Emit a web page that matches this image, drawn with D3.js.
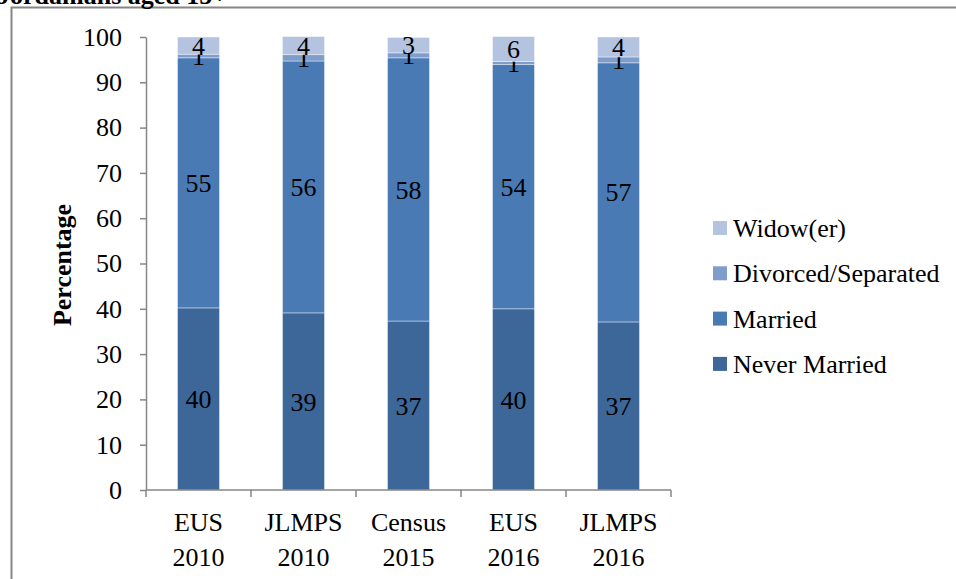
<!DOCTYPE html>
<meta charset="utf-8">
<script src="https://d3js.org/d3.v7.min.js"></script>
<style>
    body { margin: 0; background: #fff; }
    text { font-family: "Liberation Serif", "Times New Roman", serif; fill: #000; }
</style>
<svg id="chart" width="956" height="579"></svg>
<script>
    // surveys on the x axis (two-line labels)
    var surveys = ["EUS 2010", "JLMPS 2010", "Census 2015", "EUS 2016", "JLMPS 2016"];
    var statuses = ["Never Married", "Married", "Divorced/Separated", "Widow(er)"];
    // percentages
    var neverMarried = [40.2, 39.1, 37.3, 40.0, 37.1];
    var married = [55.2, 55.6, 58.1, 53.9, 57.2];
    var divorced = [0.8, 1.4, 1.1, 0.7, 1.3];
    var widow = [3.8, 4.0, 3.4, 5.5, 4.4];
    var yTicks = [0, 10, 20, 30, 40, 50, 60, 70, 80, 90, 100];
    var colors = ["#3d6699", "#4a7ab4", "#7f9dcb", "#b4c4e0"];

    var rows = surveys.map(function(s, i) {
        return {survey: s, "Never Married": neverMarried[i], "Married": married[i],
                "Divorced/Separated": divorced[i], "Widow(er)": widow[i]};
    });

    var svg = d3.select("#chart");
    var axisColor = "#868686";
    var fs = "26px";

    // frame of the chart (cut off at the right / bottom in the original)
    svg.append("path")
        .attr("d", "M11.5,579 V7.5 H956")
        .attr("fill", "none")
        .attr("stroke", axisColor)
        .attr("stroke-width", 2);

    // title, mostly clipped at the top
    svg.append("text")
        .attr("x", -3).attr("y", 4)
        .style("font-size", fs)
        .style("font-weight", "bold")
        .text("Jordanians aged 15+");

    var x = d3.scaleBand().domain(surveys).range([146, 671]).paddingInner(0.6).paddingOuter(0.3);
    var y = d3.scaleLinear().domain([0, 100]).range([490, 37]);
    var color = d3.scaleOrdinal().domain(statuses).range(colors);

    var stacked = d3.stack().keys(statuses)(rows);

    var layer = svg.append("g").selectAll("g")
        .data(stacked)
        .join("g")
        .attr("fill", d => color(d.key));

    layer.selectAll("rect")
        .data(d => d)
        .join("rect")
        .attr("x", d => x(d.data.survey))
        .attr("y", d => y(d[1]))
        .attr("width", x.bandwidth())
        .attr("height", d => y(d[0]) - y(d[1]))
        .attr("stroke", "#fff")
        .attr("stroke-opacity", 0.5)
        .attr("stroke-width", 0.8);

    layer.selectAll("text")
        .data(d => d)
        .join("text")
        .attr("x", d => x(d.data.survey) + x.bandwidth() / 2)
        .attr("y", d => (y(d[0]) + y(d[1])) / 2)
        .attr("dy", "0.35em")
        .attr("text-anchor", "middle")
        .style("font-size", fs)
        .text(d => d3.format(".0f")(d[1] - d[0]));

    // y axis
    var yAxis = svg.append("g")
        .attr("transform", "translate(146,0)")
        .call(d3.axisLeft(y).tickValues(yTicks).tickSize(6).tickPadding(18).tickSizeOuter(0));
    yAxis.selectAll("line, path").attr("stroke", axisColor).attr("stroke-width", 1.5);
    yAxis.selectAll("text").style("font-size", fs).attr("font-family", null);

    // x axis: ticks between categories
    var xAxis = svg.append("g").attr("transform", "translate(0,490)");
    xAxis.append("line")
        .attr("x1", 146).attr("x2", 671)
        .attr("stroke", axisColor).attr("stroke-width", 1.5);
    var step = x.step();
    xAxis.selectAll("line.tick")
        .data(d3.range(surveys.length + 1))
        .join("line")
        .attr("class", "tick")
        .attr("x1", i => 146 + i * step).attr("x2", i => 146 + i * step)
        .attr("y1", 0).attr("y2", 7)
        .attr("stroke", axisColor).attr("stroke-width", 1.5);
    var xl = xAxis.selectAll("text")
        .data(surveys)
        .join("text")
        .attr("text-anchor", "middle")
        .attr("x", d => x(d) + x.bandwidth() / 2)
        .style("font-size", fs);
    xl.append("tspan").attr("x", d => x(d) + x.bandwidth() / 2).attr("y", 41).text(d => d.split(" ")[0]);
    xl.append("tspan").attr("x", d => x(d) + x.bandwidth() / 2).attr("y", 76).text(d => d.split(" ")[1]);

    // y axis title
    svg.append("text")
        .attr("transform", "translate(71,265) rotate(-90)")
        .attr("text-anchor", "middle")
        .style("font-size", fs)
        .style("font-weight", "bold")
        .text("Percentage");

    // legend, widow on top
    var legend = svg.append("g").selectAll("g")
        .data(statuses.slice().reverse())
        .join("g")
        .attr("transform", (d, i) => "translate(713," + (228 + i * 45.3) + ")");
    legend.append("rect")
        .attr("x", 0).attr("y", -7)
        .attr("width", 14).attr("height", 14)
        .attr("fill", d => color(d));
    legend.append("text")
        .attr("x", 20).attr("y", 0).attr("dy", "0.35em")
        .style("font-size", fs)
        .text(d => d);
</script>
